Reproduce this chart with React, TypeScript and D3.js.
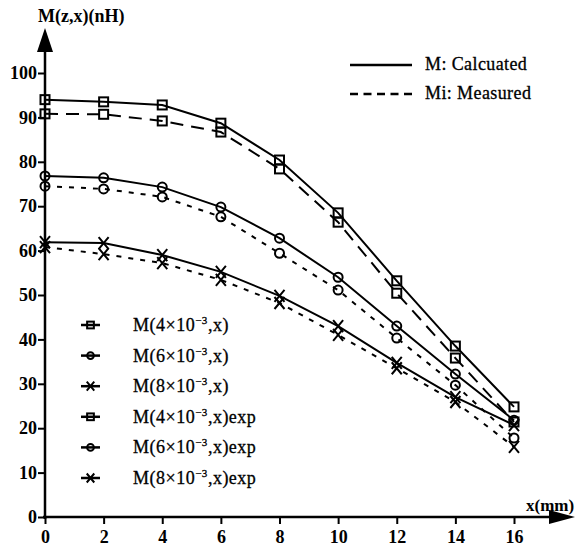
import React, { useEffect, useRef } from 'react';
import * as d3 from 'd3';

// DATA
const xValues = [0, 2, 4, 6, 8, 10, 12, 14, 16];
const calc4 = [94, 93.5, 92.8, 88.7, 80.4, 68.5, 53.2, 38.5, 24.8];
const calc6 = [76.8, 76.4, 74.3, 69.8, 62.8, 54, 43, 32.2, 21.8];
const calc8 = [61.9, 61.7, 59, 55.2, 49.8, 43, 34.7, 27, 20.7];
const meas4 = [90.8, 90.7, 89.2, 86.7, 78.4, 66.4, 50.4, 35.8, 21.4];
const meas6 = [74.5, 73.9, 72.1, 67.6, 59.4, 51.1, 40.3, 29.7, 17.8];
const meas8 = [60.8, 59.2, 57.2, 53.4, 48.2, 41, 33.5, 25.9, 15.8];
const xTicks = [0, 2, 4, 6, 8, 10, 12, 14, 16];
const yTicks = [0, 10, 20, 30, 40, 50, 60, 70, 80, 90, 100];
const legendZ = ['4', '6', '8', '4', '6', '8'];
const legendSuffix = ['', '', '', 'exp', 'exp', 'exp'];

type Marker = 'square' | 'circle' | 'cross';

const series: { values: number[]; marker: Marker; dash: string | null }[] = [
    { values: calc4, marker: 'square', dash: null },
    { values: calc6, marker: 'circle', dash: null },
    { values: calc8, marker: 'cross', dash: null },
    { values: meas4, marker: 'square', dash: '13,8' },
    { values: meas6, marker: 'circle', dash: '5,7' },
    { values: meas8, marker: 'cross', dash: '5,7' },
];

export default function App() {
    const ref = useRef<HTMLDivElement>(null);

    useEffect(() => {
        // SETTINGS
        const width = 576;
        const height = 554;
        const ink = '#000';
        const font = '"Liberation Serif", "Times New Roman", serif';

        document.body.style.margin = '0';
        d3.select(ref.current).selectAll('*').remove();

        const svg = d3.select(ref.current)
            .append('svg')
            .attr('width', width)
            .attr('height', height)
            .style('display', 'block')
            .style('background', '#fff');

        // SCALES
        const x = d3.scaleLinear().domain([0, 16]).range([45, 514]);
        const y = d3.scaleLinear().domain([0, 100]).range([517, 73]);

        const drawMarker = (g: any, m: Marker, cx: number, cy: number, k = 1) => {
            if (m === 'square') {
                g.append('rect')
                    .attr('x', cx - 4.5 * k).attr('y', cy - 4.5 * k)
                    .attr('width', 9 * k).attr('height', 9 * k)
                    .attr('fill', 'none').attr('stroke', ink).attr('stroke-width', 2);
            } else if (m === 'circle') {
                g.append('circle')
                    .attr('cx', cx).attr('cy', cy).attr('r', 4.5 * k)
                    .attr('fill', 'none').attr('stroke', ink).attr('stroke-width', 2);
            } else {
                const a = 5 * k, b = 6 * k;
                g.append('path')
                    .attr('d', `M${cx - a},${cy - b}L${cx + a},${cy + b}M${cx - a},${cy + b}L${cx + a},${cy - b}`)
                    .attr('stroke', ink).attr('stroke-width', 2);
            }
        };

        // AXES
        const axes = svg.append('g');
        axes.append('line')
            .attr('x1', x(0)).attr('x2', x(0))
            .attr('y1', y(0) + 2).attr('y2', 50)
            .attr('stroke', ink).attr('stroke-width', 2.5);
        axes.append('path')
            .attr('d', `M${x(0)},28L${x(0) - 8},52L${x(0) + 8},52Z`)
            .attr('fill', ink);
        axes.append('line')
            .attr('x1', x(0) - 2).attr('x2', 552)
            .attr('y1', y(0)).attr('y2', y(0))
            .attr('stroke', ink).attr('stroke-width', 2.5);
        axes.append('path')
            .attr('d', `M575,${y(0)}L549,${y(0) - 7}L549,${y(0) + 7}Z`)
            .attr('fill', ink);

        const yAxis = d3.axisLeft(y).tickValues(yTicks).tickSize(7).tickPadding(1);
        const yg = svg.append('g').attr('transform', `translate(${x(0)},0)`).call(yAxis);
        yg.select('.domain').remove();
        yg.selectAll('line').attr('stroke', ink).attr('stroke-width', 2);
        yg.selectAll('text')
            .attr('font-family', font).attr('font-size', 18).attr('font-weight', 'bold')
            .attr('fill', ink);

        const xAxis = d3.axisBottom(x).tickValues(xTicks).tickSize(7).tickPadding(6);
        const xg = svg.append('g').attr('transform', `translate(0,${y(0)})`).call(xAxis);
        xg.select('.domain').remove();
        xg.selectAll('line').attr('stroke', ink).attr('stroke-width', 2);
        xg.selectAll('text')
            .attr('font-family', font).attr('font-size', 18).attr('font-weight', 'bold')
            .attr('fill', ink);

        svg.append('text')
            .attr('x', 38).attr('y', 22)
            .attr('font-family', font).attr('font-size', 18).attr('font-weight', 'bold')
            .text('M(z,x)(nH)');
        svg.append('text')
            .attr('x', 526).attr('y', 511)
            .attr('font-family', font).attr('font-size', 17).attr('font-weight', 'bold')
            .text('x(mm)');

        // LINES
        const line = d3.line<number>()
            .x((d, i) => x(xValues[i]))
            .y(d => y(d));

        series.forEach(s => {
            svg.append('path')
                .datum(s.values)
                .attr('fill', 'none')
                .attr('stroke', ink)
                .attr('stroke-width', 2)
                .attr('stroke-dasharray', s.dash)
                .attr('d', line);
            const mg = svg.append('g');
            s.values.forEach((v, i) => drawMarker(mg, s.marker, x(xValues[i]), y(v)));
        });

        // LEGEND (markers)
        const leg = svg.append('g');
        series.forEach((s, i) => {
            const ly = 325 + i * 30.6;
            leg.append('line')
                .attr('x1', 81).attr('x2', 100).attr('y1', ly).attr('y2', ly)
                .attr('stroke', ink).attr('stroke-width', 2.5);
            drawMarker(leg, s.marker, 90.5, ly, 0.75);
            const t = leg.append('text')
                .attr('x', 133).attr('y', ly + 6)
                .attr('font-family', font).attr('font-size', 18)
                .attr('letter-spacing', 0.5)
                .attr('stroke', ink).attr('stroke-width', 0.3)
                .attr('fill', ink);
            t.append('tspan').text(`M(${legendZ[i]}×10`);
            t.append('tspan').attr('dy', -7).attr('font-size', 11).text('−3');
            t.append('tspan').attr('dy', 7).text(`,x)${legendSuffix[i]}`);
        });

        // LEGEND (line styles)
        leg.append('line')
            .attr('x1', 350).attr('x2', 412).attr('y1', 65).attr('y2', 65)
            .attr('stroke', ink).attr('stroke-width', 2.5);
        leg.append('text')
            .attr('x', 425).attr('y', 70)
            .attr('font-family', font).attr('font-size', 18)
            .attr('letter-spacing', 0.4)
            .attr('stroke', ink).attr('stroke-width', 0.3)
            .text('M: Calcuated');
        leg.append('line')
            .attr('x1', 350).attr('x2', 412).attr('y1', 94).attr('y2', 94)
            .attr('stroke', ink).attr('stroke-width', 2.5)
            .attr('stroke-dasharray', '8,5.5');
        leg.append('text')
            .attr('x', 425).attr('y', 99)
            .attr('font-family', font).attr('font-size', 18)
            .attr('letter-spacing', 0.4)
            .attr('stroke', ink).attr('stroke-width', 0.3)
            .text('Mi: Measured');
    }, []);

    return <div ref={ref}></div>;
}
